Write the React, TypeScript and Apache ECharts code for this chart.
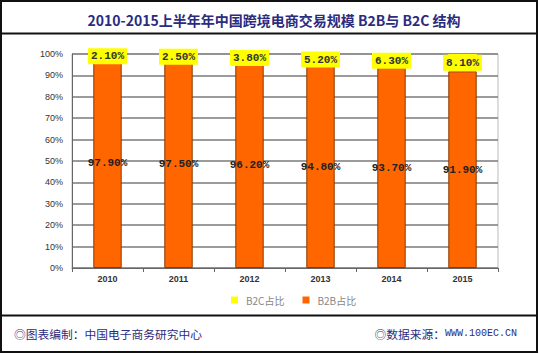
import React, { useEffect, useRef } from "react";
import * as echarts from "echarts";

const categories = ["2010", "2011", "2012", "2013", "2014", "2015"];
const b2bShare = [97.9, 97.5, 96.2, 94.8, 93.7, 91.9];
const b2cShare = [2.1, 2.5, 3.8, 5.2, 6.3, 8.1];
const titleText = "2010-2015上半年年中国跨境电商交易规模 B2B与 B2C 结构";
const footerLeft = "◎图表编制：中国电子商务研究中心";
const footerRightLabel = "◎数据来源：";
const footerRightUrl = "WWW.100EC.CN";

export default function App() {
  const ref = useRef<HTMLDivElement>(null);
  useEffect(() => {
    if (!ref.current) return;
    const chart = echarts.init(ref.current, null, { renderer: "svg" });
    const navy = "#2b2b80";
    chart.setOption({
      animation: false,
      backgroundColor: "#ffffff",
      title: {
        text: titleText,
        left: 269,
        textAlign: "center",
        top: 8,
        textStyle: {
          fontSize: 14,
          fontWeight: "bold",
          color: navy,
          fontFamily: "Noto Sans CJK SC",
        },
      },
      grid: { left: 72, right: 41, top: 54, bottom: 86, show: true, borderColor: "#bbbbbb", borderWidth: 1 },
      legend: {
        data: ["B2C占比", "B2B占比"],
        top: 290,
        left: 226,
        itemWidth: 7,
        itemHeight: 7,
        itemGap: 18,
        icon: "rect",
        itemStyle: { borderWidth: 0 },
        textStyle: { fontSize: 10, color: "#888", fontFamily: "Noto Sans CJK SC", padding: [0, 0, 0, 3] },
      },
      xAxis: {
        type: "category",
        data: categories,
        axisLine: { lineStyle: { color: "#666", width: 1 } },
        axisTick: { show: true, length: 4, lineStyle: { color: "#666" } },
        axisLabel: { fontSize: 9, color: "#333", margin: 6, fontWeight: "bold", fontFamily: "Liberation Sans" },
      },
      yAxis: {
        type: "value",
        min: 0,
        max: 100,
        interval: 10,
        axisLine: { show: true, lineStyle: { color: "#666", width: 1 } },
        axisTick: { show: false },
        axisLabel: { fontSize: 9, color: "#333", margin: 9, formatter: "{value}%", fontFamily: "Liberation Sans" },
        splitLine: { lineStyle: { color: "#7a7a7a", width: 1.5 } },
      },
      series: [
        {
          name: "B2B占比",
          type: "bar",
          stack: "total",
          data: b2bShare,
          barWidth: "40%",
          itemStyle: { color: "#ff6600", borderColor: "#8a3a00", borderWidth: 1 },
          label: {
            show: true,
            position: "inside",
            formatter: (p: any) => p.value.toFixed(2) + "%",
            fontSize: 11,
            fontWeight: "bold",
            color: "#222",
            fontFamily: "Liberation Mono",
          },
        },
        {
          name: "B2C占比",
          type: "bar",
          stack: "total",
          data: b2cShare,
          barWidth: "40%",
          itemStyle: { color: "#ffff00" },
          label: {
            show: true,
            position: "inside",
            formatter: (p: any) => p.value.toFixed(2) + "%",
            fontSize: 11,
            fontWeight: "bold",
            color: "#333",
            fontFamily: "Liberation Mono",
            backgroundColor: "#ffff00",
            padding: [3, 3, 2, 3],
          },
        },
      ],
      graphic: [
        { type: "rect", shape: { x: 1, y: 1, width: 536, height: 351 }, style: { fill: "none", stroke: "#111", lineWidth: 2 }, silent: true, z: 100 },
        { type: "line", shape: { x1: 1, y1: 33.5, x2: 537, y2: 33.5 }, style: { stroke: "#111", lineWidth: 2 }, silent: true, z: 100 },
        { type: "line", shape: { x1: 1, y1: 315.5, x2: 537, y2: 315.5 }, style: { stroke: "#111", lineWidth: 2 }, silent: true, z: 100 },
        {
          type: "text",
          x: 14,
          y: 333,
          style: { text: footerLeft, fontSize: 11.75, fill: navy, fontFamily: "Noto Sans CJK SC", verticalAlign: "middle" },
          silent: true,
        },
        {
          type: "text",
          x: 517,
          y: 333,
          style: {
            text: "{a|" + footerRightLabel + "}{b|" + footerRightUrl + "}",
            align: "right",
            verticalAlign: "middle",
            rich: {
              a: { fontSize: 11.75, fill: navy, color: navy, fontFamily: "Noto Sans CJK SC" },
              b: { fontSize: 10, fill: navy, color: navy, fontFamily: "Liberation Mono" },
            },
          },
          silent: true,
        },
      ],
    });
    return () => chart.dispose();
  }, []);
  return (
    <div
      ref={ref}
      style={{ position: "fixed", left: 0, top: 0, width: 539, height: 354 }}
    />
  );
}
